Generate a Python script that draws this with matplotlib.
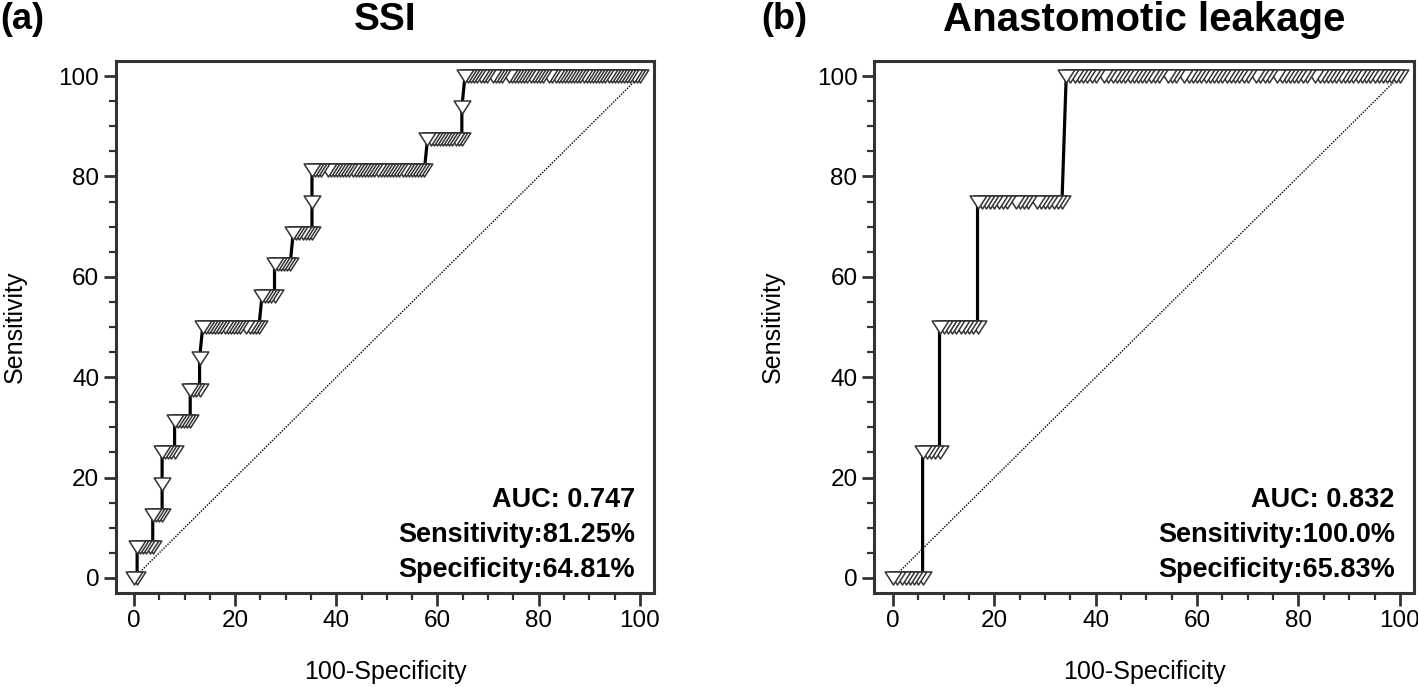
import numpy as np
import matplotlib.pyplot as plt
from matplotlib.path import Path

plt.rcParams['font.family'] = ['Liberation Sans', 'DejaVu Sans']

# SSI: false-positive counts at each criterion, one run per true-positive count (0..16)
ssi_n_neg = 162
ssi_n_pos = 16
ssi_fp_runs = [
    [0, 1],
    [1, 2, 3, 4, 5, 6],
    [6, 7, 8, 9],
    [9],
    [9, 10, 11, 12, 13],
    [13, 14, 15, 16, 17, 18],
    [18, 19, 20, 21],
    [21],
    [22, 23, 24, 25, 26, 27, 28, 29, 30, 31, 32, 33, 34, 36, 37, 38, 39, 40],
    [41, 42, 43, 44, 45],
    [45, 46, 47, 48, 49, 50],
    [51, 52, 53, 54, 55, 56, 57],
    [57],
    [57, 58, 59, 60, 62, 63, 64, 65, 66, 67, 68, 69, 70, 71, 72, 73, 74, 75, 76,
     77, 78, 79, 80, 81, 82, 83, 84, 85, 86, 87, 88, 89, 90, 91, 92, 93],
    [94, 95, 96, 97, 98, 99, 100, 101, 102, 103, 104, 105],
    [105],
    [106, 107, 108, 109, 110, 111, 112, 113, 115, 116, 117, 118, 120, 121, 122,
     123, 124, 125, 126, 127, 128, 129, 130, 131, 133, 134, 135, 136, 137, 138,
     139, 140, 141, 142, 143, 144, 145, 146, 147, 148, 149, 150, 151, 152, 153,
     154, 155, 156, 157, 158, 159, 160, 161, 162],
]
ssi_stats = ['AUC: 0.747', 'Sensitivity:81.25%', 'Specificity:64.81%']

# Anastomotic leakage: one run per true-positive count (0..4)
al_n_neg = 120
al_n_pos = 4
al_fp_runs = [
    [0, 1, 2, 3, 4, 5, 6, 7],
    [7, 8, 9, 10, 11],
    [11, 12, 13, 14, 15, 16, 17, 18, 19, 20],
    [20, 21, 22, 23, 24, 25, 26, 27, 29, 30, 31, 32, 34, 35, 36, 37, 38, 39, 40],
    [41, 42, 43, 44, 45, 46, 47, 48, 50, 51, 52, 53, 54, 55, 56, 57, 58, 59, 60,
     61, 62, 63, 65, 66, 67, 69, 70, 71, 72, 73, 74, 75, 76, 77, 78, 79, 80, 81,
     82, 83, 84, 86, 87, 88, 89, 91, 92, 93, 94, 95, 96, 97, 98, 100, 101, 102,
     103, 104, 105, 106, 107, 108, 109, 110, 111, 112, 113, 114, 115, 116, 117,
     118, 119, 120],
]
al_stats = ['AUC: 0.832', 'Sensitivity:100.0%', 'Specificity:65.83%']

frame_col = '#333333'
tri = Path([(-1, 0.78), (1, 0.78), (0, -0.78), (-1, 0.78)],
           [Path.MOVETO, Path.LINETO, Path.LINETO, Path.CLOSEPOLY])


def roc_points(fp_runs, n_neg, n_pos):
    xs, ys = [], []
    for tp, run in enumerate(fp_runs):
        for fp in run:
            xs.append(100.0 * fp / n_neg)
            ys.append(100.0 * tp / n_pos)
    return np.array(xs), np.array(ys)


def draw_panel(ax, xs, ys, xlim, stats):
    ax.plot([0, 100], [0, 100], color='black', lw=1.0, ls=(0, (1, 1)), zorder=1)
    ax.plot(xs, ys, color='black', lw=2.3, zorder=2)
    # right-to-left so the left marker of each run sits on top
    ax.plot(xs[::-1], ys[::-1], ls='none', marker=tri, ms=12, mfc='white',
            mec=frame_col, mew=1.1, zorder=3)
    ax.set_xlim(*xlim)
    ax.set_ylim(-3.0, 103.0)
    ax.set_xticks(range(0, 101, 20))
    ax.set_yticks(range(0, 101, 20))
    ax.set_xticks(range(0, 101, 5), minor=True)
    ax.set_yticks(range(0, 101, 5), minor=True)
    ax.tick_params(which='major', direction='out', length=9, width=2,
                   color=frame_col, labelsize=17.5, pad=3)
    ax.tick_params(which='minor', direction='out', length=5, width=1.6,
                   color=frame_col)
    for s in ax.spines.values():
        s.set_linewidth(2.2)
        s.set_color(frame_col)
    ax.set_xlabel('100-Specificity', fontsize=18)
    ax.set_ylabel('Sensitivity', fontsize=18)
    ax.xaxis.set_label_coords(0.5, -0.125)
    ax.yaxis.set_label_coords(-0.165, 0.5)
    for txt, yv in zip(stats, [15.5, 8.6, 1.6]):
        ax.text(99, yv, txt, ha='right', va='center', fontsize=19.5,
                fontweight='bold')


fig = plt.figure(figsize=(14.18, 6.87), dpi=100)
ax1 = fig.add_axes([0.0818, 0.1368, 0.3794, 0.7744])
ax2 = fig.add_axes([0.6164, 0.1368, 0.3808, 0.7744])

x1, y1 = roc_points(ssi_fp_runs, ssi_n_neg, ssi_n_pos)
x2, y2 = roc_points(al_fp_runs, al_n_neg, al_n_pos)
draw_panel(ax1, x1, y1, (-3.56, 102.8), ssi_stats)
draw_panel(ax2, x2, y2, (-3.75, 102.8), al_stats)

fig.text(0.2715, 0.971, 'SSI', ha='center', va='center', fontsize=28,
         fontweight='bold')
fig.text(0.8068, 0.971, 'Anastomotic leakage', ha='center', va='center',
         fontsize=29, fontweight='bold')
fig.text(0.0, 0.971, '(a)', ha='left', va='center', fontsize=26,
         fontweight='bold')
fig.text(0.537, 0.971, '(b)', ha='left', va='center', fontsize=26,
         fontweight='bold')

fig.savefig('out.png', dpi=100)
